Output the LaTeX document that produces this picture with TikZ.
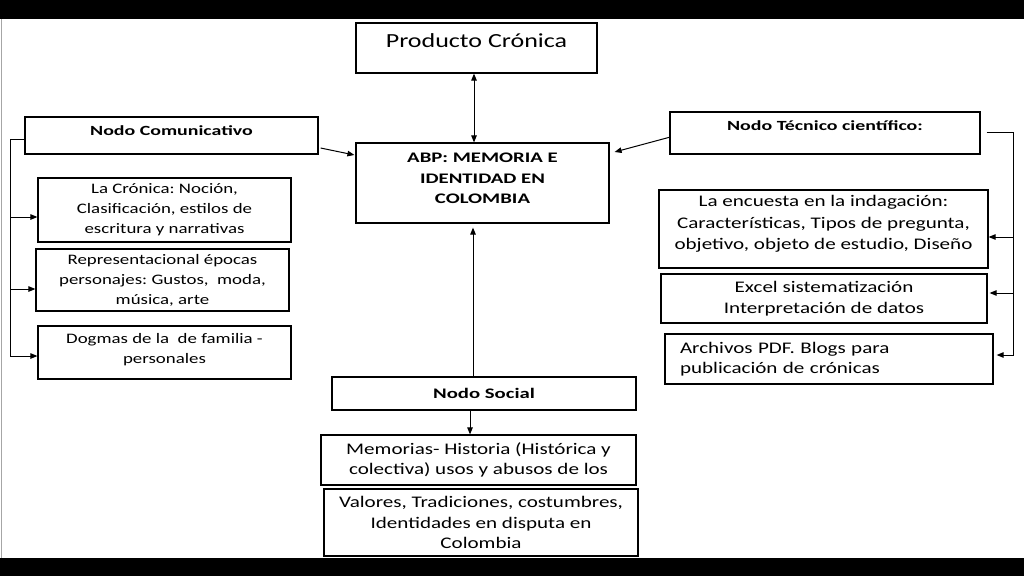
\documentclass[tikz,border=0pt]{standalone}
\usepackage{fontspec}
\setmainfont{Carlito}[FakeStretch=1.3]
\newfontfamily\hdfont{Carlito}[FakeStretch=1.42]
\usetikzlibrary{arrows.meta}
\begin{document}
\frenchspacing
\begin{tikzpicture}[x=1pt,y=-1pt,
  box/.style={draw=black, line width=1.2pt, align=center, inner sep=2pt,
    font=\fontsize{14.5}{20}\selectfont},
  bigbox/.style={box, font=\fontsize{16.2}{20.5}\selectfont},
  hd/.style={box, font=\fontsize{14}{20}\selectfont\hdfont\bfseries},
  arr/.style={line width=1pt, -{Triangle[length=7pt,width=5.5pt]}},
  darr/.style={line width=1pt, {Triangle[length=7pt,width=5.5pt]}-{Triangle[length=7pt,width=5.5pt]}},
  ln/.style={line width=1pt}]
\useasboundingbox (0,0) rectangle (1024,576);
\fill[white] (0,0) rectangle (1024,576);
\fill[black] (0,0) rectangle (1024,19);
\fill[black] (0,558) rectangle (1024,576);
\draw[gray!70, line width=1.2pt] (1.5,19) -- (1.5,558);

% central column
\node[box, font=\fontsize{20}{24}\selectfont, minimum width=241pt, minimum height=50pt,
  text height=14pt, text depth=16pt] (prod) at (476.5,48) {Producto Crónica};
\node[hd, font=\fontsize{14.6}{20.5}\selectfont\hdfont\bfseries, minimum width=253pt, minimum height=80pt, text depth=9pt] (abp) at (482.5,183)
  {ABP: MEMORIA E\\IDENTIDAD EN\\COLOMBIA};
\node[hd, font=\fontsize{14.6}{20}\selectfont\hdfont\bfseries, minimum width=304pt, minimum height=33pt] (soc) at (484,393.5) {Nodo Social};
\node[bigbox, minimum width=315pt, minimum height=50pt] (mem) at (478.5,460)
  {Memorias- Historia (Histórica y\\colectiva) usos y abusos de los};
\node[bigbox, minimum width=314pt, minimum height=67pt] (val) at (481,522.5)
  {Valores, Tradiciones, costumbres,\\Identidades en disputa en\\Colombia};

% left column
\node[hd, minimum width=293pt, minimum height=37pt, text depth=9pt] (com) at (171.5,135.5) {Nodo Comunicativo};
\node[box, minimum width=253pt, minimum height=64pt] (cron) at (164.5,210)
  {La Crónica: Noción,\\Clasificación, estilos de\\escritura y narrativas};
\node[box, minimum width=253pt, minimum height=62pt] (rep) at (162.5,280)
  {Representacional épocas\\personajes: Gustos,\ \ moda,\\música, arte};
\node[box, minimum width=253pt, minimum height=53pt, text depth=9pt] (dog) at (164.5,352.5)
  {Dogmas de la\ \ de familia -\\personales};

% right column
\node[hd, minimum width=310pt, minimum height=42pt, text depth=14pt] (tec) at (825,133) {Nodo Técnico científico:};
\node[bigbox, font=\fontsize{16.2}{21.5}\selectfont, minimum width=329pt, minimum height=78pt, text depth=13pt] (enc) at (823.5,229)
  {La encuesta en la indagación:\\Características, Tipos de pregunta,\\objetivo, objeto de estudio, Diseño};
\node[bigbox, minimum width=326pt, minimum height=49pt] (exc) at (824,298.5)
  {Excel sistematización\\Interpretación de datos};
\node[bigbox, minimum width=328pt, minimum height=50pt, text width=298pt, align=left] (arc) at (829,359)
  {Archivos PDF. Blogs para\\publicación de crónicas};

% connectors, centre
\draw[darr] ([xshift=-2.5pt]prod.south) -- ([xshift=-8.5pt]abp.north);
\draw[arr] ([xshift=-11pt]soc.north) -- ([xshift=-9.5pt,yshift=-4pt]abp.south);
\draw[arr] ([xshift=-14pt]soc.south) -- ([xshift=-8.5pt]mem.north);
\draw[arr] ([xshift=2pt,yshift=-12.5pt]com.east) -- ([xshift=-1pt,yshift=28pt]abp.west);
\draw[arr] ([xshift=1pt,yshift=-4pt]tec.west) -- ([xshift=5pt,yshift=31pt]abp.east);

% left bracket
\coordinate (lb) at (10,139);
\draw[ln] ([yshift=-3.5pt]com.west) -- (lb);
\draw[arr] (lb) |- ([yshift=-7pt]cron.west);
\draw[arr] (lb) |- ([yshift=-9pt]rep.west);
\draw[arr] (lb) |- ([yshift=-3.5pt]dog.west);

% right bracket
\coordinate (rb) at (1013,132);
\draw[ln] ([xshift=6pt,yshift=1pt]tec.east) -- (rb);
\draw[arr] (rb) |- ([yshift=-8pt]enc.east);
\draw[arr] (rb) |- ([xshift=2pt,yshift=5.5pt]exc.east);
\draw[arr] (rb) |- ([xshift=3pt,yshift=4pt]arc.east);
\end{tikzpicture}
\end{document}
